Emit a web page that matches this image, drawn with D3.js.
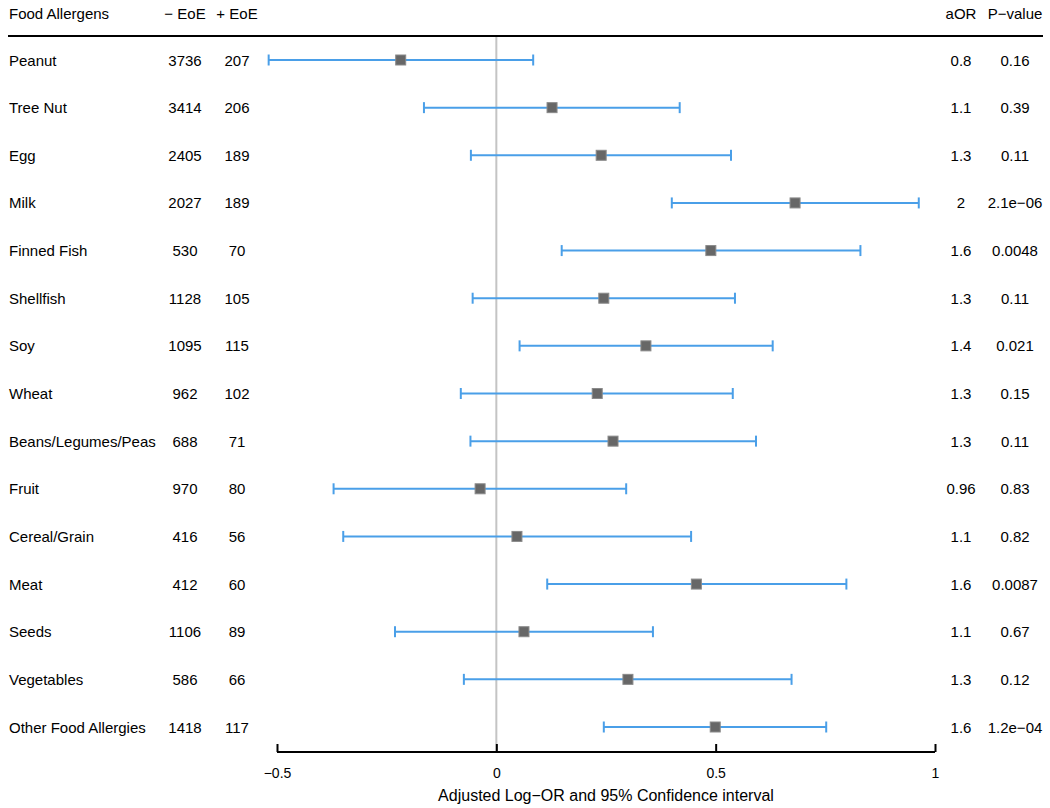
<!DOCTYPE html>
<html>
<head>
<meta charset="utf-8">
<script src="https://cdn.jsdelivr.net/npm/d3@7"></script>
<style>
  html, body { margin: 0; padding: 0; background: #fff; }
  svg { display: block; font-family: "Liberation Sans", Arial, Helvetica, sans-serif; }
</style>
</head>
<body>
<svg id="chart" width="1050" height="808"></svg>
<script>
const foods = ["Peanut","Tree Nut","Egg","Milk","Finned Fish","Shellfish","Soy","Wheat",
  "Beans/Legumes/Peas","Fruit","Cereal/Grain","Meat","Seeds","Vegetables","Other Food Allergies"];
const negEoE = [3736,3414,2405,2027,530,1128,1095,962,688,970,416,412,1106,586,1418];
const posEoE = [207,206,189,189,70,105,115,102,71,80,56,60,89,66,117];
const logOR  = [-0.218,0.127,0.239,0.681,0.489,0.245,0.341,0.230,0.266,-0.037,0.047,0.456,0.063,0.300,0.499];
const ciLow  = [-0.519,-0.165,-0.058,0.400,0.149,-0.054,0.053,-0.081,-0.059,-0.371,-0.349,0.116,-0.231,-0.074,0.245];
const ciHigh = [0.084,0.418,0.535,0.963,0.830,0.544,0.630,0.539,0.592,0.296,0.444,0.798,0.357,0.673,0.752];
const aORLabels = ["0.8","1.1","1.3","2","1.6","1.3","1.4","1.3","1.3","0.96","1.1","1.6","1.1","1.3","1.6"];
const pValues = ["0.16","0.39","0.11","2.1e\u221206","0.0048","0.11","0.021","0.15","0.11","0.83","0.82","0.0087","0.67","0.12","1.2e\u221204"];
const headers = ["Food Allergens","\u2212 EoE","+ EoE","aOR","P\u2212value"];
const xTicks = [-0.5,0,0.5,1];
const xTitle = "Adjusted Log\u2212OR and 95% Confidence interval";

const rows = foods.map((f,i)=>({food:f, neg:negEoE[i], pos:posEoE[i], est:logOR[i], lo:ciLow[i], hi:ciHigh[i], aor:aORLabels[i], p:pValues[i]}));

const svg = d3.select("#chart");
const x = d3.scaleLinear().domain([-0.5,1]).range([277,935]);
const y = d3.scalePoint().domain(foods).range([60,727]);

const fs = 15;
const colX = {food:9, neg:185, pos:237, aor:961, p:1015};
const blue = "#4a9fe8";

// header
const hdr = svg.append("g").attr("font-size", fs).attr("fill","#000");
hdr.append("text").attr("x",colX.food).attr("y",13).attr("dominant-baseline","central").text(headers[0]);
hdr.append("text").attr("x",colX.neg).attr("y",13).attr("text-anchor","middle").attr("dominant-baseline","central").text(headers[1]);
hdr.append("text").attr("x",colX.pos).attr("y",13).attr("text-anchor","middle").attr("dominant-baseline","central").text(headers[2]);
hdr.append("text").attr("x",colX.aor).attr("y",13).attr("text-anchor","middle").attr("dominant-baseline","central").text(headers[3]);
hdr.append("text").attr("x",colX.p).attr("y",13).attr("text-anchor","middle").attr("dominant-baseline","central").text(headers[4]);
svg.append("line").attr("x1",8).attr("x2",1043).attr("y1",36).attr("y2",36).attr("stroke","#000").attr("stroke-width",1.8);

// zero line
svg.append("line").attr("x1",x(0)).attr("x2",x(0)).attr("y1",37).attr("y2",752)
  .attr("stroke","#c4c4c4").attr("stroke-width",2);

// text columns
const tg = svg.append("g").attr("font-size", fs).attr("fill","#000");
const rg = tg.selectAll("g.row").data(rows).join("g").attr("class","row")
  .attr("transform", d=>`translate(0,${y(d.food)})`);
rg.append("text").attr("x",colX.food).attr("dominant-baseline","central").text(d=>d.food);
rg.append("text").attr("x",colX.neg).attr("text-anchor","middle").attr("dominant-baseline","central").text(d=>d.neg);
rg.append("text").attr("x",colX.pos).attr("text-anchor","middle").attr("dominant-baseline","central").text(d=>d.pos);
rg.append("text").attr("x",colX.aor).attr("text-anchor","middle").attr("dominant-baseline","central").text(d=>d.aor);
rg.append("text").attr("x",colX.p).attr("text-anchor","middle").attr("dominant-baseline","central").text(d=>d.p);

// CI whiskers
const cg = svg.append("g");
const cr = cg.selectAll("g").data(rows).join("g").attr("transform", d=>`translate(0,${y(d.food)})`);
cr.append("line").attr("x1",d=>x(d.lo)).attr("x2",d=>x(d.hi)).attr("y1",0).attr("y2",0)
  .attr("stroke",blue).attr("stroke-width",2);
cr.append("line").attr("x1",d=>x(d.lo)).attr("x2",d=>x(d.lo)).attr("y1",-5.5).attr("y2",5.5)
  .attr("stroke",blue).attr("stroke-width",2);
cr.append("line").attr("x1",d=>x(d.hi)).attr("x2",d=>x(d.hi)).attr("y1",-5.5).attr("y2",5.5)
  .attr("stroke",blue).attr("stroke-width",2);
const sq = 10;
cr.append("rect").attr("x",d=>x(d.est)-sq/2).attr("y",-sq/2).attr("width",sq).attr("height",sq)
  .attr("fill","#676767").attr("stroke","#8a8a8a").attr("stroke-width",1);

// axis
const axisY = 752;
const ag = svg.append("g").attr("transform",`translate(0,${axisY})`)
  .call(d3.axisBottom(x).tickValues(xTicks).tickSize(8).tickPadding(8)
    .tickFormat(d => d === 0 ? "0" : (d===1 ? "1" : d3.format("")(d).replace("-","\u2212"))));
ag.select(".domain").attr("stroke","#000").attr("stroke-width",2).attr("d", `M${x(-0.5)},0H${x(1)}`);
ag.selectAll(".tick line").attr("stroke","#000").attr("stroke-width",2).attr("y1",-8).attr("y2",0);
ag.selectAll(".tick text").attr("font-size",14).attr("fill","#000")
  .attr("font-family","\"Liberation Sans\", Arial, sans-serif");

svg.append("text").attr("x", x(0.25)).attr("y", 795).attr("text-anchor","middle")
  .attr("dominant-baseline","central").attr("font-size", 16).attr("fill","#000").text(xTitle);
</script>
</body>
</html>
